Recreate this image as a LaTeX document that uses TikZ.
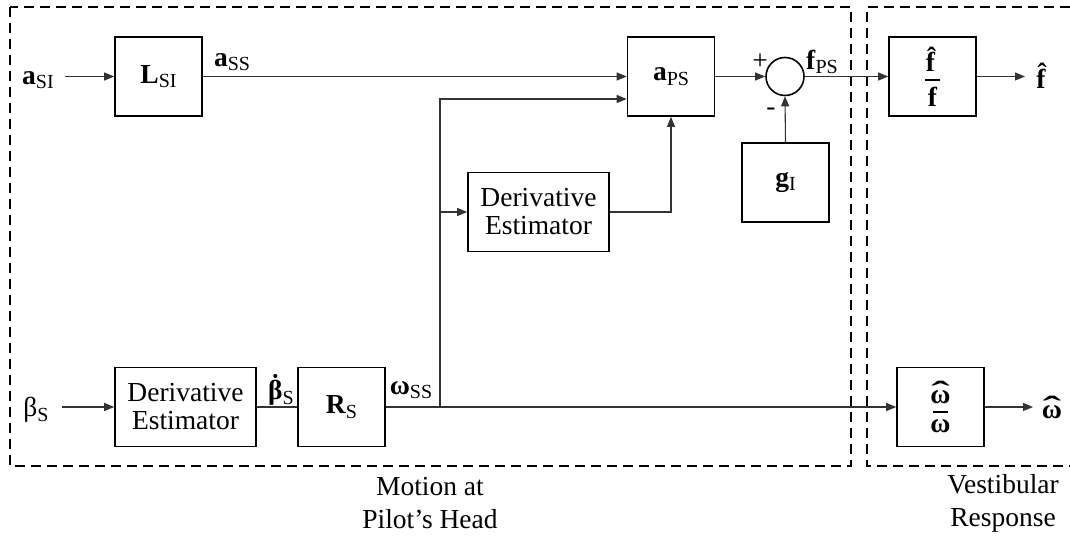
\documentclass[tikz,border=0pt]{standalone}
\usepackage{fontspec}
\setmainfont{Liberation Serif}
\usetikzlibrary{arrows.meta}
\newcommand{\bsub}[2]{\textbf{#1}\raisebox{-0.35ex}{\fontsize{20}{20}\selectfont #2}}
\newcommand{\acc}[3]{\setbox0\hbox{#3}\rlap{\hbox to \wd0{\hss\raisebox{#1}{#2}\hss}}\box0}
\newcommand{\myfrac}[2]{\vbox{\offinterlineskip\halign{\hfil##\hfil\cr #1\cr\noalign{\kern7pt}\rule{15pt}{2.4pt}\cr\noalign{\kern6pt}#2\cr}}}
\newcommand{\bomhat}{\acc{1pt}{\scalebox{2}[1.1]{\textbf{ˆ}}}{\textbf{ω}}}
\begin{document}
\begin{tikzpicture}[x=1pt,y=-1pt,
  every node/.style={font=\fontsize{27.5}{33}\selectfont, inner sep=0pt},
  blk/.style={draw, line width=1.6pt, minimum width=87pt, minimum height=79pt, align=center},
  wblk/.style={blk, minimum width=141pt},
  conn/.style={line width=1.1pt, black!80},
  arr/.style={conn, -{Triangle[length=10pt,width=8pt]}},
  frame/.style={line width=1.6pt, dash pattern=on 10pt off 6pt}]
\useasboundingbox (0,0) rectangle (1070,554);
% frames
\draw[frame] (10,7) rectangle (851,466);
\draw[frame] (1070,7) -| (867,466) -- (1070,466);
% blocks
\node[blk] (LSI) at (158.5,76.5) {\bsub{L}{SI}};
\node[blk] (aPS) at (671,76.5) {\bsub{a}{PS}};
\node[draw, circle, line width=1.6pt, minimum size=38pt] (sum) at (785,76.5) {};
\node[blk] (gI) at (785.5,182.5) {\bsub{g}{I}};
\node[blk] (ff) at (932.5,76.5) {\myfrac{\textbf{f̂}}{\textbf{f}}};
\node[wblk] (de1) at (538.5,212) {Derivative\\[-5pt]Estimator};
\node[wblk] (de2) at (185.5,407) {Derivative\\[-5pt]Estimator};
\node[blk] (RS) at (341.5,407) {\bsub{R}{S}};
\node[blk] (ww) at (940.5,407) {\myfrac{\bomhat}{\textbf{ω}}};
% input / output labels
\node (aSI) at (38,80) {\bsub{a}{SI}};
\node (bS) at (36,410) {β\raisebox{-0.35ex}{\fontsize{20}{20}\selectfont S}};
\node (fhat) at (1043,76) {\textbf{f̂}};
\node (what) at (1052,407) {\bomhat};
% signal labels
\node (lss) at (232,62) {\bsub{a}{SS}};
\node (lps) at (822,62) {\bsub{f}{PS}};
\node (lbd) at (281,390) {\textbf{\acc{6pt}{˙}{β}}\raisebox{-0.35ex}{\fontsize{20}{20}\selectfont S}};
\node (lws) at (411,390) {\bsub{ω}{SS}};
\node (lplus) at (760,62) {+};
\node (lminus) at (771,112) {-};
% junction
\coordinate (j) at (440,407);
\coordinate (jt) at (440,99);
\coordinate (aIn) at (65,76.5);
\coordinate (bIn) at (62,407);
\coordinate (fOut) at (1025,76.5);
\coordinate (wOut) at (1033,407);
% connectors
\draw[arr] (aIn) -- (LSI.west);
\draw[arr] (LSI.east) -- (aPS.west);
\draw[arr] (j) -- (jt) -- (aPS.west |- jt);
\draw[arr] (j |- de1) -- (de1.west);
\draw[arr] (de1.east) -| (aPS.south);
\draw[arr] (aPS.east) -- (sum.west);
\draw[arr] (gI.north) -- (sum.south);
\draw[arr] (sum.east) -- (ff.west);
\draw[arr] (ff.east) -- (fOut);
\draw[arr] (bIn) -- (de2.west);
\draw[conn] (de2.east) -- (RS.west);
\draw[arr] (RS.east) -- (ww.west);
\draw[arr] (ww.east) -- (wOut);
% captions
\node[align=center] (cap1) at (430,503) {Motion at\\Pilot’s Head};
\node[align=center] (cap2) at (1003,503) {Vestibular\\Response};
\end{tikzpicture}
\end{document}
